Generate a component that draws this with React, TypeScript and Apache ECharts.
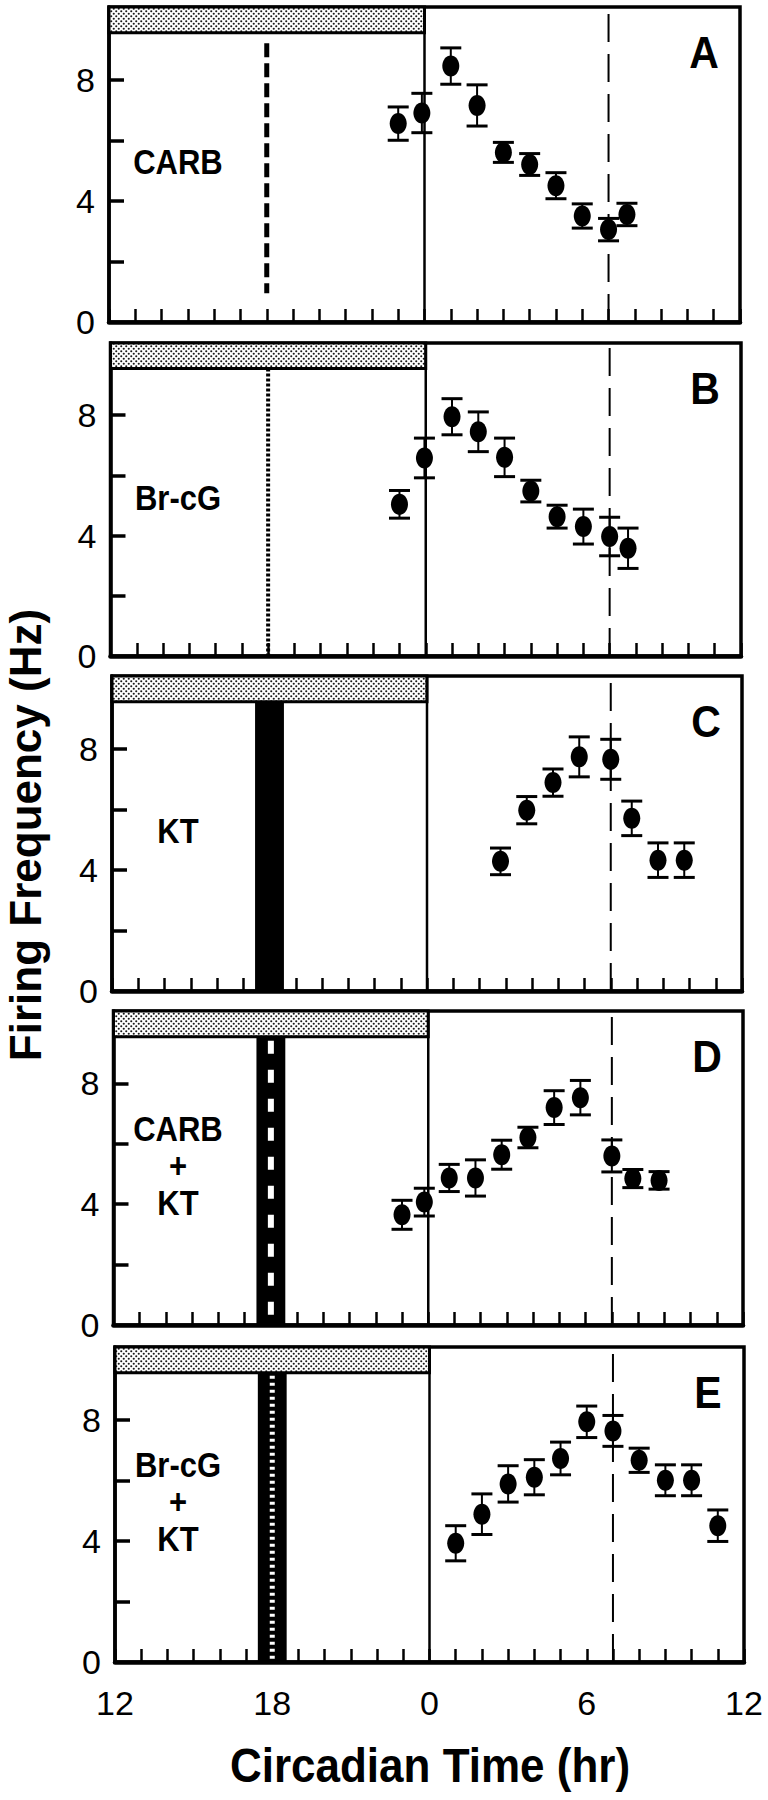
import React, { useEffect, useRef } from 'react';
import * as echarts from 'echarts';

// x = hours relative to CT 0 (negative = previous subjective night, e.g. -1 = CT 23)
const CT_A = [-1, -0.1, 1, 2, 3, 4, 5, 6, 7, 7.7];
const HZ_A = [6.55, 6.9, 8.45, 7.15, 5.6, 5.2, 4.5, 3.5, 3.05, 3.55];
const SEM_A = [0.55, 0.65, 0.6, 0.68, 0.33, 0.36, 0.43, 0.4, 0.37, 0.37];

const CT_B = [-1, -0.05, 1, 2, 3, 4, 5, 6, 7, 7.7];
const HZ_B = [5.04, 6.58, 7.95, 7.45, 6.6, 5.48, 4.63, 4.3, 3.97, 3.58];
const SEM_B = [0.46, 0.66, 0.6, 0.66, 0.64, 0.36, 0.38, 0.58, 0.64, 0.67];

const CT_C = [2.8, 3.8, 4.8, 5.8, 7, 7.8, 8.8, 9.8];
const HZ_C = [4.28, 5.97, 6.88, 7.73, 7.65, 5.7, 4.32, 4.32];
const SEM_C = [0.44, 0.45, 0.45, 0.66, 0.66, 0.57, 0.57, 0.57];

const CT_D = [-1, -0.15, 0.8, 1.8, 2.8, 3.8, 4.8, 5.8, 7, 7.8, 8.8];
const HZ_D = [3.65, 4.07, 4.87, 4.87, 5.64, 6.21, 7.2, 7.53, 5.6, 4.85, 4.79];
const SEM_D = [0.48, 0.46, 0.45, 0.6, 0.48, 0.34, 0.56, 0.57, 0.53, 0.3, 0.29];

const CT_E = [1, 2, 3, 4, 5, 6, 7, 8, 9, 10, 11];
const HZ_E = [3.92, 4.88, 5.88, 6.1, 6.72, 7.93, 7.63, 6.66, 6.0, 6.0, 4.5];
const SEM_E = [0.58, 0.67, 0.6, 0.58, 0.54, 0.52, 0.51, 0.4, 0.51, 0.51, 0.52];

const PANEL_LETTERS = ['A', 'B', 'C', 'D', 'E'];
const PANEL_TREATMENTS = ['CARB', 'Br-cG', 'KT', 'CARB\n+\nKT', 'Br-cG\n+\nKT'];
const TREATMENT_MARK = ['dash', 'dot', 'bar', 'barDash', 'barDot'];

const X_MIN = -12;
const X_MAX = 12;
const X_LABEL_VALUES = [-12, -6, 0, 6, 12];
const X_LABEL_TEXT = ['12', '18', '0', '6', '12'];
const Y_MAX = 10.4;
const Y_TICK_VALUES = [2, 4, 6, 8];
const Y_LABEL_VALUES = [0, 4, 8];

const DARK_PHASE = [-12, 0];
const DARK_BAR_BOTTOM = 9.55;
const TREATMENT_CT = -6;
const TREATMENT_SPAN = [-6.55, -5.45];
const REFERENCE_CT = 7;

const X_TITLE = 'Circadian Time (hr)';
const Y_TITLE = 'Firing Frequency (Hz)';

// layout
const GRID_TOP = [7, 343, 676, 1011, 1347];
const GRID_BOTTOM = [322, 656, 991, 1325, 1662];
const GRID_LEFT = [109, 110.5, 112, 113.5, 115];
const GRID_RIGHT = [740, 741, 742, 743, 744];
const FONT = "'Liberation Sans', Arial, Helvetica, sans-serif";

const SERIES = [
  { ct: CT_A, hz: HZ_A, sem: SEM_A },
  { ct: CT_B, hz: HZ_B, sem: SEM_B },
  { ct: CT_C, hz: HZ_C, sem: SEM_C },
  { ct: CT_D, hz: HZ_D, sem: SEM_D },
  { ct: CT_E, hz: HZ_E, sem: SEM_E },
];

function makeStipple(): HTMLCanvasElement {
  const c = document.createElement('canvas');
  c.width = 5;
  c.height = 5;
  const ctx = c.getContext('2d');
  if (ctx) {
    ctx.fillStyle = '#ffffff';
    ctx.fillRect(0, 0, 5, 5);
    ctx.fillStyle = '#1a1a1a';
    ctx.beginPath();
    ctx.arc(1.25, 1.25, 1.05, 0, Math.PI * 2);
    ctx.fill();
    ctx.beginPath();
    ctx.arc(3.75, 3.75, 1.05, 0, Math.PI * 2);
    ctx.fill();
  }
  return c;
}

export default function App() {
  const ref = useRef<HTMLDivElement>(null);

  useEffect(() => {
    document.body.style.margin = '0';
    if (!ref.current) return;
    const chart = echarts.init(ref.current, null, { renderer: 'svg' });
    const stipple = makeStipple();

    const grids: any[] = [];
    const xAxes: any[] = [];
    const yAxes: any[] = [];
    const series: any[] = [];
    const graphics: any[] = [];

    SERIES.forEach((s, i) => {
      grids.push({
        left: GRID_LEFT[i],
        top: GRID_TOP[i],
        width: GRID_RIGHT[i] - GRID_LEFT[i],
        height: GRID_BOTTOM[i] - GRID_TOP[i],
        show: true,
        borderColor: '#000',
        borderWidth: 3.5,
        backgroundColor: 'transparent',
        containLabel: false,
        outerBoundsMode: 'none',
      });
      xAxes.push({
        gridIndex: i,
        type: 'value',
        min: X_MIN,
        max: X_MAX,
        interval: 1,
        axisLine: { show: true, onZero: false, lineStyle: { color: '#000', width: 4.5 } },
        axisTick: { show: true, inside: true, length: 13, lineStyle: { color: '#000', width: 2.5 } },
        axisLabel: {
          show: i === SERIES.length - 1,
          showMinLabel: true,
          showMaxLabel: true,
          margin: 24,
          color: '#000',
          fontSize: 34,
          fontFamily: FONT,
          formatter: (v: number) => {
            const k = X_LABEL_VALUES.indexOf(v);
            return k >= 0 ? X_LABEL_TEXT[k] : '';
          },
        },
        splitLine: { show: false },
      });
      yAxes.push({
        gridIndex: i,
        type: 'value',
        min: 0,
        max: Y_MAX,
        interval: 2,
        axisLine: { show: true, onZero: false, lineStyle: { color: '#000', width: 3.5 } },
        axisTick: {
          show: true,
          inside: true,
          length: 15,
          customValues: Y_TICK_VALUES,
          lineStyle: { color: '#000', width: 3.5 },
        },
        axisLabel: {
          show: true,
          customValues: Y_LABEL_VALUES,
          margin: 14,
          color: '#000',
          fontSize: 34,
          fontFamily: FONT,
        },
        splitLine: { show: false },
      });

      const mark = TREATMENT_MARK[i];
      series.push({
        type: 'custom',
        xAxisIndex: i,
        yAxisIndex: i,
        silent: true,
        z: 1,
        data: [[DARK_PHASE[0], DARK_BAR_BOTTOM]],
        renderItem: (_p: any, api: any) => {
          const tl = api.coord([DARK_PHASE[0], Y_MAX]);
          const br = api.coord([DARK_PHASE[1], DARK_BAR_BOTTOM]);
          const mid0 = api.coord([0, 0]);
          const mid1 = api.coord([0, Y_MAX]);
          const ref0 = api.coord([REFERENCE_CT, 0]);
          const ref1 = api.coord([REFERENCE_CT, Y_MAX]);
          const children: any[] = [
            {
              type: 'rect',
              shape: { x: tl[0], y: tl[1], width: br[0] - tl[0], height: br[1] - tl[1] },
              style: {
                fill: { image: stipple, repeat: 'repeat', imageWidth: 5, imageHeight: 5 },
                stroke: '#000',
                lineWidth: 3,
              },
            },
            {
              type: 'line',
              shape: { x1: mid0[0], y1: mid0[1], x2: mid1[0], y2: mid1[1] },
              style: { stroke: '#000', lineWidth: 2.5 },
            },
            {
              type: 'line',
              shape: { x1: ref0[0], y1: ref0[1], x2: ref1[0], y2: ref1[1] },
              style: { stroke: '#000', lineWidth: 2, lineDash: [28, 12] },
            },
          ];
          const t0 = api.coord([TREATMENT_CT, 0]);
          const tTop = api.coord([TREATMENT_CT, DARK_BAR_BOTTOM]);
          if (mark === 'dash') {
            const a = api.coord([TREATMENT_CT, 9.2]);
            const b = api.coord([TREATMENT_CT, 0.95]);
            children.push({
              type: 'line',
              shape: { x1: a[0], y1: a[1], x2: b[0], y2: b[1] },
              style: { stroke: '#000', lineWidth: 5, lineDash: [14, 6] },
            });
          } else if (mark === 'dot') {
            children.push({
              type: 'line',
              shape: { x1: tTop[0], y1: tTop[1], x2: t0[0], y2: t0[1] },
              style: { stroke: '#000', lineWidth: 4, lineDash: [3, 2] },
            });
          } else {
            const l = api.coord([TREATMENT_SPAN[0], DARK_BAR_BOTTOM]);
            const r = api.coord([TREATMENT_SPAN[1], 0]);
            children.push({
              type: 'rect',
              shape: { x: l[0], y: l[1], width: r[0] - l[0], height: r[1] - l[1] },
              style: { fill: '#000' },
            });
            if (mark === 'barDash') {
              children.push({
                type: 'line',
                shape: { x1: tTop[0], y1: tTop[1] + 4, x2: t0[0], y2: t0[1] },
                style: { stroke: '#fff', lineWidth: 6, lineDash: [13, 16] },
              });
            } else if (mark === 'barDot') {
              children.push({
                type: 'line',
                shape: { x1: tTop[0], y1: tTop[1] + 3, x2: t0[0], y2: t0[1] },
                style: { stroke: '#fff', lineWidth: 5, lineDash: [3, 4] },
              });
            }
          }
          return { type: 'group', children };
        },
      });

      series.push({
        type: 'custom',
        xAxisIndex: i,
        yAxisIndex: i,
        silent: true,
        z: 3,
        data: s.ct.map((x, k) => [x, s.hz[k], s.sem[k]]),
        encode: { x: 0, y: 1 },
        renderItem: (_p: any, api: any) => {
          const x = api.value(0);
          const y = api.value(1);
          const e = api.value(2);
          const c = api.coord([x, y]);
          const hi = api.coord([x, y + e]);
          const lo = api.coord([x, y - e]);
          const cap = 10.5;
          return {
            type: 'group',
            children: [
              { type: 'line', shape: { x1: c[0], y1: hi[1], x2: c[0], y2: lo[1] }, style: { stroke: '#000', lineWidth: 2 } },
              { type: 'line', shape: { x1: c[0] - cap, y1: hi[1], x2: c[0] + cap, y2: hi[1] }, style: { stroke: '#000', lineWidth: 3 } },
              { type: 'line', shape: { x1: c[0] - cap, y1: lo[1], x2: c[0] + cap, y2: lo[1] }, style: { stroke: '#000', lineWidth: 3 } },
              { type: 'ellipse', shape: { cx: c[0], cy: c[1], rx: 8.5, ry: 10.5 }, style: { fill: '#000' } },
            ],
          };
        },
      });

      graphics.push({
        type: 'text',
        x: 704 + i,
        y: GRID_TOP[i] + 45,
        scaleY: 1.08,
        style: {
          text: PANEL_LETTERS[i],
          font: `bold 41px ${FONT}`,
          fill: '#000',
          align: 'center',
          verticalAlign: 'middle',
          textAlign: 'center',
          textVerticalAlign: 'middle',
        },
      });
      graphics.push({
        type: 'text',
        x: 178,
        y: GRID_TOP[i] + 155,
        scaleY: 1.15,
        style: {
          text: PANEL_TREATMENTS[i],
          font: `bold 31px ${FONT}`,
          lineHeight: 32,
          fill: '#000',
          align: 'center',
          verticalAlign: 'middle',
          textAlign: 'center',
          textVerticalAlign: 'middle',
        },
      });
    });

    graphics.push({
      type: 'text',
      x: 430,
      y: 1766,
      scaleY: 1.08,
      style: {
        text: X_TITLE,
        font: `bold 44px ${FONT}`,
        fill: '#000',
        align: 'center',
        verticalAlign: 'middle',
        textAlign: 'center',
        textVerticalAlign: 'middle',
      },
    });
    graphics.push({
      type: 'text',
      x: 25,
      y: 835,
      rotation: Math.PI / 2,
      style: {
        text: Y_TITLE,
        font: `bold 44px ${FONT}`,
        fill: '#000',
        align: 'center',
        verticalAlign: 'middle',
        textAlign: 'center',
        textVerticalAlign: 'middle',
      },
    });

    chart.setOption({
      animation: false,
      backgroundColor: '#fff',
      grid: grids,
      xAxis: xAxes,
      yAxis: yAxes,
      series,
      graphic: graphics,
    });

    return () => {
      chart.dispose();
    };
  }, []);

  return <div ref={ref} style={{ width: 768, height: 1800 }} />;
}
